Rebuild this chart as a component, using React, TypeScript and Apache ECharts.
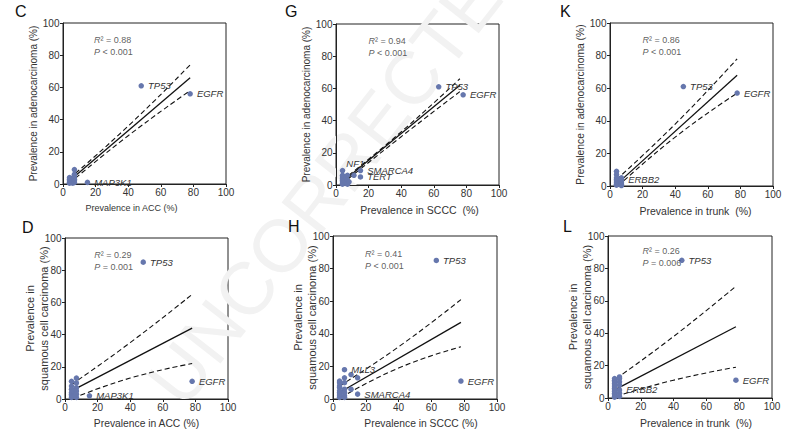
import React, { useEffect, useRef } from 'react';
import * as echarts from 'echarts';

// ---------- data ----------
// Panel C: ACC vs adenocarcinoma
const C_points = [[4, 0.5], [4, 1], [4, 2], [4, 3], [4, 4], [5, 1], [5, 2], [6, 3], [6, 0.5], [7, 9], [7, 6], [7, 5], [7, 3], [7, 2], [7, 1]];
const C_genes = [['TP53', 48, 61], ['EGFR', 78, 56], ['MAP3K1', 15, 1]];
const C_fit = [[4, 2], [78, 66]];
const C_upper = [[4, 3.5], [40, 36], [78, 74]];
const C_lower = [[4, 0.5], [40, 30], [78, 58]];
const C_stats = ['0.88', '< 0.001'];

// Panel G: SCCC vs adenocarcinoma
const G_points = [[4, 6], [4, 5], [4, 4], [4, 3], [4, 2], [4, 1], [4, 0.5], [5, 3], [6, 5], [7, 6], [7, 3], [7, 1], [7, 0.5], [8, 2], [11, 6]];
const G_genes = [['NF1', 4, 9], ['SMARCA4', 15, 9], ['TERT', 15, 5], ['TP53', 63, 61], ['EGFR', 78, 56]];
const G_fit = [[4, 2], [76, 62]];
const G_upper = [[4, 3], [40, 33], [76, 66]];
const G_lower = [[4, 1], [40, 30], [76, 58]];
const G_stats = ['0.94', '< 0.001'];

// Panel K: trunk vs adenocarcinoma
const K_points = [[4, 9], [4, 7], [4, 5], [4, 4], [4, 3], [4, 2], [4, 1], [4, 0.5], [7, 5], [7, 3], [7, 2], [7, 1], [7, 0.3]];
const K_genes = [['ERBB2', 7, 4], ['TP53', 45, 61], ['EGFR', 78, 57]];
const K_fit = [[4, 1], [78, 68]];
const K_upper = [[4, 4], [40, 38], [78, 78]];
const K_lower = [[5, 0], [40, 30], [78, 57]];
const K_stats = ['0.86', '< 0.001'];

// Panel D: ACC vs squamous cell carcinoma
const D_points = [[4, 11], [4, 8], [4, 6], [4, 4], [4, 3], [4, 2], [4, 1], [5, 5], [6, 2], [7, 13], [7, 10], [7, 7], [7, 5], [7, 3], [7, 1]];
const D_genes = [['TP53', 48, 85], ['EGFR', 78, 11], ['MAP3K1', 15, 2]];
const D_fit = [[4, 5], [78, 44]];
const D_upper = [[4, 9], [40, 35], [78, 65]];
const D_lower = [[5, 0.5], [40, 13], [78, 22]];
const D_stats = ['0.29', '= 0.001'];

// Panel H: SCCC vs squamous cell carcinoma
const H_points = [[4, 11], [4, 10], [4, 8], [4, 7], [4, 5], [4, 4], [4, 3], [4, 2], [4, 1], [7, 13], [7, 10], [7, 6], [7, 4], [7, 2], [7, 1], [11, 15], [11, 6], [15, 13]];
const H_genes = [['MLL3', 7, 18], ['SMARCA4', 15, 3], ['TP53', 63, 85], ['EGFR', 78, 11]];
const H_fit = [[4, 4], [78, 47]];
const H_upper = [[4, 8], [40, 32], [78, 61]];
const H_lower = [[5, 1], [40, 19], [78, 32]];
const H_stats = ['0.41', '< 0.001'];

// Panel L: trunk vs squamous cell carcinoma
const L_points = [[4, 12], [4, 11], [4, 10], [4, 9], [4, 8], [4, 7], [4, 6], [4, 5], [4, 4], [4, 3], [4, 2], [4, 1], [4, 0.5], [7, 13], [7, 12], [7, 10], [7, 8], [7, 3], [7, 1]];
const L_genes = [['ERBB2', 7, 5], ['TP53', 45, 85], ['EGFR', 78, 11]];
const L_fit = [[4, 5], [78, 44]];
const L_upper = [[5, 12], [40, 38], [78, 69]];
const L_lower = [[5, 1], [40, 11], [78, 19]];
const L_stats = ['0.26', '= 0.006'];

const AXIS_TICKS = [0, 20, 40, 60, 80, 100];

// ---------- layout / style ----------
const FONT = 'Liberation Sans, Arial, Helvetica, sans-serif';
const POINT = '#6677ad';
const INK = '#222';
const TXT = '#333';

type Panel = {
  letter: string;
  letterPos: [number, number];
  grid: { left: number; top: number; width: number; height: number };
  xName: string;
  yName: string;
  xNameSize: number;
  xNamePad: number[];
  yNameSize: number;
  yNameGap: number;
  points: number[][];
  genes: (string | number)[][];
  fit: number[][];
  upper: number[][];
  lower: number[][];
  stats: string[];
  statAt: [number, number];
};

const panels: Panel[] = [
  { letter: 'C', letterPos: [15, 3], grid: { left: 63, top: 23, width: 163, height: 161 }, xName: 'Prevalence in ACC (%)', xNamePad: [0, 26, 0, 0], yName: 'Prevalence in adenocarcinoma (%)', xNameSize: 9, yNameSize: 10, yNameGap: 23, points: C_points, genes: C_genes, fit: C_fit, upper: C_upper, lower: C_lower, stats: C_stats, statAt: [19, 85.5] },
  { letter: 'G', letterPos: [285, 3], grid: { left: 336, top: 24, width: 163, height: 161 }, xName: 'Prevalence in SCCC  (%)', xNamePad: [0, 0, 0, 4], yName: 'Prevalence in adenocarcinoma (%)', xNameSize: 10.5, yNameSize: 10, yNameGap: 23, points: G_points, genes: G_genes, fit: G_fit, upper: G_upper, lower: G_lower, stats: G_stats, statAt: [20, 86] },
  { letter: 'K', letterPos: [560, 3], grid: { left: 610, top: 23, width: 163, height: 163 }, xName: 'Prevalence in trunk  (%)', xNamePad: [0, 0, 0, 8], yName: 'Prevalence in adenocarcinoma (%)', xNameSize: 10.5, yNameSize: 10.3, yNameGap: 23, points: K_points, genes: K_genes, fit: K_fit, upper: K_upper, lower: K_lower, stats: K_stats, statAt: [20, 86] },
  { letter: 'D', letterPos: [22, 219], grid: { left: 65, top: 238, width: 163, height: 161 }, xName: 'Prevalence in ACC (%)', xNamePad: [0, 0, 0, 0], yName: 'Prevalence in\nsquamous cell carcinoma (%)', xNameSize: 10.3, yNameSize: 11, yNameGap: 14, points: D_points, genes: D_genes, fit: D_fit, upper: D_upper, lower: D_lower, stats: D_stats, statAt: [18, 85.5] },
  { letter: 'H', letterPos: [288, 218], grid: { left: 333, top: 236, width: 164, height: 163 }, xName: 'Prevalence in SCCC (%)', xNamePad: [0, 0, 0, 12], yName: 'Prevalence in\nsquamous cell carcinoma (%)', xNameSize: 10.3, yNameSize: 11, yNameGap: 14, points: H_points, genes: H_genes, fit: H_fit, upper: H_upper, lower: H_lower, stats: H_stats, statAt: [19.5, 85] },
  { letter: 'L', letterPos: [563, 218], grid: { left: 608, top: 236, width: 164, height: 162 }, xName: 'Prevalence in trunk  (%)', xNamePad: [0, 0, 0, 12], yName: 'Prevalence in\nsquamous cell carcinoma (%)', xNameSize: 10.5, yNameSize: 11, yNameGap: 14, points: L_points, genes: L_genes, fit: L_fit, upper: L_upper, lower: L_lower, stats: L_stats, statAt: [21, 87] },
];

function buildOption() {
  const grids: any[] = [];
  const xAxes: any[] = [];
  const yAxes: any[] = [];
  const series: any[] = [];
  const graphics: any[] = [];

  const tickMin = AXIS_TICKS[0];
  const tickMax = AXIS_TICKS[AXIS_TICKS.length - 1];
  const tickStep = AXIS_TICKS[1] - AXIS_TICKS[0];

  panels.forEach((p, i) => {
    grids.push({ ...p.grid, show: true, borderColor: INK, borderWidth: 1, backgroundColor: 'transparent', containLabel: false });
    const axisCommon = {
      gridIndex: i,
      type: 'value',
      min: tickMin,
      max: tickMax,
      interval: tickStep,
      nameLocation: 'middle',
      nameMoveOverlap: false,
      axisLine: { show: true, onZero: false, lineStyle: { color: INK, width: 1 } },
      axisTick: { show: true, inside: false, length: 3, lineStyle: { color: INK, width: 1 } },
      axisLabel: { fontSize: 10, color: TXT, margin: 3.5, fontFamily: FONT },
      splitLine: { show: false },
    };
    xAxes.push({ ...axisCommon, name: p.xName, nameGap: 19, nameTextStyle: { fontSize: p.xNameSize, color: TXT, fontFamily: FONT, padding: p.xNamePad } });
    yAxes.push({ ...axisCommon, name: p.yName, nameGap: p.yNameGap, nameTextStyle: { fontSize: p.yNameSize, color: TXT, fontFamily: FONT, lineHeight: 14 } });

    const lineBase = { type: 'line', xAxisIndex: i, yAxisIndex: i, symbol: 'none', silent: true, z: 3 };
    series.push({ ...lineBase, data: p.fit, lineStyle: { color: '#111', width: 1.3 } });
    series.push({ ...lineBase, smooth: true, data: p.upper, lineStyle: { color: '#111', width: 1.1, type: [5, 3] } });
    series.push({ ...lineBase, smooth: true, data: p.lower, lineStyle: { color: '#111', width: 1.1, type: [5, 3] } });

    const geneItems = p.genes.map((g) => ({
      value: [g[1], g[2]],
      name: g[0],
      label: {
        show: true,
        ...(g[0] === 'NF1' ? { offset: [-3, -7] } : {}),
      },
    }));
    series.push({
      type: 'scatter',
      xAxisIndex: i,
      yAxisIndex: i,
      symbolSize: 5.5,
      z: 4,
      itemStyle: { color: POINT, opacity: 1 },
      label: {
        show: false,
        position: 'right',
        distance: 4,
        formatter: (d: any) => d.name,
        fontSize: 9.5,
        fontStyle: 'italic',
        color: TXT,
        fontFamily: FONT,
      },
      data: [...p.points.map((pt) => ({ value: pt })), ...geneItems],
    });

    series.push({
      type: 'scatter',
      xAxisIndex: i,
      yAxisIndex: i,
      symbolSize: 0,
      silent: true,
      z: 5,
      data: [{ value: p.statAt }],
      label: {
        show: true,
        position: 'right',
        distance: 0,
        align: 'left',
        fontSize: 9,
        color: TXT,
        fontFamily: FONT,
        lineHeight: 12,
        formatter: `{i|R}\u00b2 = ${p.stats[0]}\n{i|P} ${p.stats[1]}`,
        rich: { i: { fontStyle: 'italic', fontSize: 9, color: TXT, fontFamily: FONT } },
      },
    });

    graphics.push({
      type: 'text',
      left: p.letterPos[0],
      top: p.letterPos[1],
      z: 10,
      style: { text: p.letter, fontSize: 16, fill: '#111', fontFamily: FONT },
    });
  });

  graphics.unshift({
    type: 'text',
    x: 341,
    y: 168,
    rotation: (52 * Math.PI) / 180,
    z: 0,
    zlevel: 0,
    silent: true,
    style: {
      text: 'UNCORRECTED',
      fontSize: 74,
      fill: '#f2f2f2',
      fontFamily: FONT,
      align: 'center',
      verticalAlign: 'middle',
    },
  });

  return {
    animation: false,
    backgroundColor: '#fff',
    textStyle: { fontFamily: FONT },
    grid: grids,
    xAxis: xAxes,
    yAxis: yAxes,
    series,
    graphic: { elements: graphics },
  };
}

export default function App() {
  const ref = useRef<HTMLDivElement>(null);
  useEffect(() => {
    if (!ref.current) return;
    const chart = echarts.init(ref.current, undefined, { renderer: 'svg' });
    chart.setOption(buildOption() as any);
    return () => chart.dispose();
  }, []);
  return <div ref={ref} style={{ position: 'absolute', left: 0, top: 0, width: 796, height: 429 }} />;
}
